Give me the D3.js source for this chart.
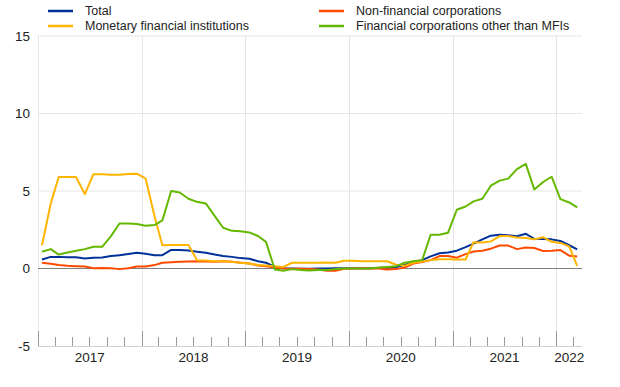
<!DOCTYPE html>
<html>
<head>
<meta charset="utf-8">
<script src="https://cdn.jsdelivr.net/npm/d3@7"></script>
<style>
  body { margin: 0; background: #fff; }
  svg text { font-family: "Liberation Sans", Arial, sans-serif; fill: #222; }
</style>
</head>
<body>
<div id="chart"></div>
<script>

// monthly observations, Jan 2017 - Mar 2022
var months = [
    "2017-01","2017-02","2017-03","2017-04","2017-05","2017-06","2017-07","2017-08","2017-09","2017-10","2017-11","2017-12",
    "2018-01","2018-02","2018-03","2018-04","2018-05","2018-06","2018-07","2018-08","2018-09","2018-10","2018-11","2018-12",
    "2019-01","2019-02","2019-03","2019-04","2019-05","2019-06","2019-07","2019-08","2019-09","2019-10","2019-11","2019-12",
    "2020-01","2020-02","2020-03","2020-04","2020-05","2020-06","2020-07","2020-08","2020-09","2020-10","2020-11","2020-12",
    "2021-01","2021-02","2021-03","2021-04","2021-05","2021-06","2021-07","2021-08","2021-09","2021-10","2021-11","2021-12",
    "2022-01","2022-02","2022-03"
];

var total = [
    0.58, 0.75, 0.75, 0.73, 0.73, 0.65, 0.69, 0.71, 0.80, 0.86, 0.93, 1.01,
    0.95, 0.86, 0.86, 1.20, 1.20, 1.16, 1.08, 1.01, 0.90, 0.80, 0.75, 0.67,
    0.63, 0.47, 0.37, 0.10, 0.02, 0.00, -0.02, -0.02, 0.00, 0.00, 0.02, 0.02,
    0.02, 0.02, 0.02, 0.04, 0.06, 0.10, 0.22, 0.43, 0.54, 0.78, 0.98, 1.03,
    1.15, 1.38, 1.60, 1.88, 2.12, 2.18, 2.15, 2.08, 2.24, 1.92, 1.90, 1.88,
    1.78, 1.50, 1.23
];

var nonFinancial = [
    0.37, 0.30, 0.22, 0.17, 0.15, 0.13, 0.02, 0.04, 0.02, -0.04, 0.02, 0.13,
    0.13, 0.22, 0.37, 0.41, 0.43, 0.45, 0.47, 0.45, 0.43, 0.47, 0.43, 0.37,
    0.32, 0.20, 0.15, 0.06, 0.00, -0.02, -0.02, -0.04, -0.06, -0.15, -0.15, -0.02,
    0.00, 0.02, 0.00, 0.00, -0.06, -0.04, 0.06, 0.32, 0.42, 0.54, 0.80, 0.80,
    0.70, 0.93, 1.10, 1.15, 1.28, 1.48, 1.48, 1.25, 1.36, 1.32, 1.13, 1.14,
    1.19, 0.83, 0.77
];

var monetaryFinancial = [
    1.50, 4.20, 5.90, 5.90, 5.90, 4.80, 6.08, 6.08, 6.05, 6.05, 6.10, 6.12,
    5.80, 3.40, 1.50, 1.52, 1.52, 1.52, 0.54, 0.52, 0.47, 0.47, 0.43, 0.37,
    0.32, 0.22, 0.20, 0.15, 0.10, 0.37, 0.37, 0.37, 0.37, 0.39, 0.37, 0.50,
    0.50, 0.47, 0.47, 0.47, 0.47, 0.24, 0.17, 0.37, 0.45, 0.54, 0.60, 0.60,
    0.58, 0.58, 1.70, 1.68, 1.75, 2.09, 2.09, 2.00, 1.97, 1.88, 2.02, 1.72,
    1.65, 1.42, 0.17
];

var otherFinancial = [
    1.08, 1.25, 0.90, 1.03, 1.14, 1.25, 1.40, 1.40, 2.09, 2.90, 2.90, 2.87,
    2.76, 2.80, 3.10, 5.00, 4.90, 4.50, 4.30, 4.20, 3.40, 2.63, 2.43, 2.40,
    2.33, 2.10, 1.72, -0.06, -0.15, -0.04, -0.10, -0.13, -0.10, -0.10, -0.04, 0.00,
    0.00, 0.00, 0.00, 0.06, 0.10, 0.15, 0.37, 0.47, 0.54, 2.18, 2.18, 2.30,
    3.79, 4.00, 4.33, 4.50, 5.34, 5.67, 5.80, 6.41, 6.75, 5.10, 5.58, 5.92,
    4.48, 4.26, 3.95
];

var seriesNames = ["Total", "Non-financial corporations", "Monetary financial institutions", "Financial corporations other than MFIs"];
var seriesColors = ["#003299", "#ff4b00", "#ffb400", "#65b800"];
var yTicks = [-5, 0, 5, 10, 15];
var yearLabels = ["2017", "2018", "2019", "2020", "2021", "2022"];

//set the dimensions and margins of the graph
var width = 620, height = 387;
var margin = { top: 36, right: 38, bottom: 41, left: 38 };

var parseMonth = d3.timeParse("%Y-%m");
var dates = months.map(m => d3.timeDay.offset(parseMonth(m), 14));

var x = d3.scaleTime()
    .domain([new Date(2017, 0, 1), new Date(2022, 3, 1)])
    .range([margin.left, width - margin.right]);

var y = d3.scaleLinear()
    .domain([-5, 15])
    .range([height - margin.bottom, margin.top]);

var svg = d3.select("#chart")
    .append("svg")
    .attr("width", width)
    .attr("height", height);

// horizontal grid
svg.append("g")
    .selectAll("line")
    .data(yTicks.filter(t => t > -5 && t !== 0))
    .enter().append("line")
    .attr("x1", x.range()[0])
    .attr("x2", x.range()[1])
    .attr("y1", d => y(d))
    .attr("y2", d => y(d))
    .style("stroke", "#e6e6e6")
    .style("stroke-width", 1);

// vertical grid at year starts
var years = yearLabels.map(d => new Date(+d, 0, 1));
svg.append("g")
    .selectAll("line")
    .data(years)
    .enter().append("line")
    .attr("x1", d => Math.round(x(d)) + 0.5)
    .attr("x2", d => Math.round(x(d)) + 0.5)
    .attr("y1", y(15))
    .attr("y2", y(-5))
    .style("stroke", "#e6e6e6")
    .style("stroke-width", 1);

// y labels
svg.append("g")
    .selectAll("text")
    .data(yTicks)
    .enter().append("text")
    .attr("x", margin.left - 8)
    .attr("y", d => y(d))
    .attr("dy", "0.35em")
    .attr("text-anchor", "end")
    .style("font-size", "13.5px")
    .text(d => d);

// x axis: baseline + ticks
var axisY = y(-5);
svg.append("line")
    .attr("x1", x.range()[0])
    .attr("x2", x.range()[1])
    .attr("y1", axisY + 0.5)
    .attr("y2", axisY + 0.5)
    .style("stroke", "#cfcfcf");

var ticks = d3.timeMonth.every(2).range(x.domain()[0], x.domain()[1]);
svg.append("g")
    .selectAll("line")
    .data(ticks)
    .enter().append("line")
    .attr("x1", d => Math.round(x(d)) + 0.5)
    .attr("x2", d => Math.round(x(d)) + 0.5)
    .attr("y1", axisY)
    .attr("y2", d => d.getMonth() === 0 ? axisY - 15 : axisY - 9)
    .style("stroke", "#9a9a9a")
    .style("stroke-width", 1);

svg.append("g")
    .selectAll("text")
    .data(yearLabels)
    .enter().append("text")
    .attr("x", d => {
        var a = Math.max(x(new Date(+d, 0, 1)), x.range()[0]);
        var b = Math.min(x(new Date(+d + 1, 0, 1)), x.range()[1]);
        return (a + b) / 2;
    })
    .attr("y", axisY + 16)
    .attr("text-anchor", "middle")
    .style("font-size", "13.5px")
    .text(d => d);

// zero line
svg.append("line")
    .attr("x1", x.range()[0])
    .attr("x2", x.range()[1])
    .attr("y1", y(0))
    .attr("y2", y(0))
    .style("stroke", "#7f7f7f")
    .style("stroke-width", 1.2);

// lines
var allSeries = [total, nonFinancial, monetaryFinancial, otherFinancial];
var line = d3.line()
    .x((d, i) => x(dates[i]))
    .y(d => y(d));

svg.append("g")
    .selectAll("path")
    .data(allSeries)
    .enter().append("path")
    .attr("d", d => line(d))
    .style("fill", "none")
    .style("stroke", (d, i) => seriesColors[i])
    .style("stroke-width", 2)
    .style("stroke-linejoin", "round");

// legend, two columns
var legendPos = [[48, 11], [319, 11], [48, 26], [319, 26]];
var keys = svg.append("g")
    .selectAll("g")
    .data(seriesNames)
    .enter().append("g")
    .attr("transform", (d, i) => "translate(" + legendPos[i][0] + "," + legendPos[i][1] + ")");

keys.append("line")
    .attr("x1", 0)
    .attr("x2", 25)
    .style("stroke", (d, i) => seriesColors[i])
    .style("stroke-width", 2.5);

keys.append("text")
    .attr("x", 37)
    .attr("dy", "0.35em")
    .style("font-size", "12.5px")
    .text(d => d);

</script>
</body>
</html>
